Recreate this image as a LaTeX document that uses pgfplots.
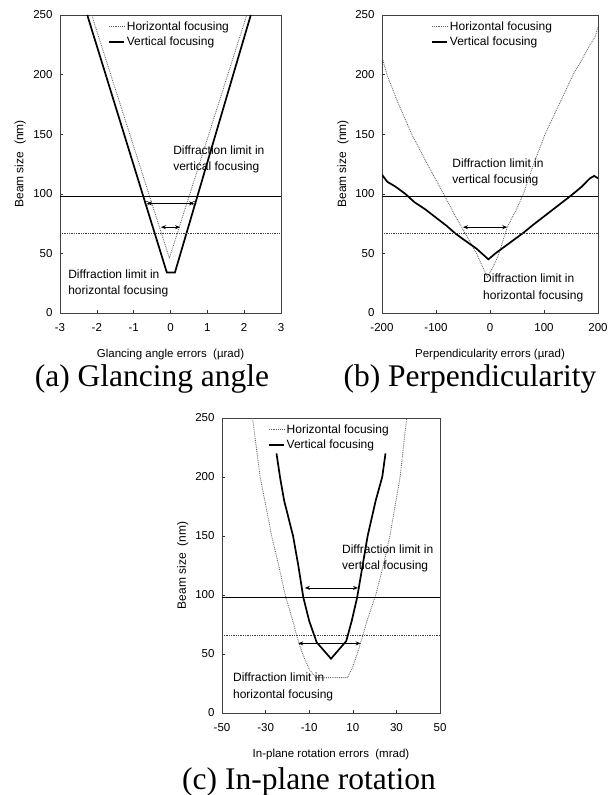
\documentclass[border=0pt]{standalone}
\usepackage{fontspec}
\setmainfont{Liberation Serif}
\setsansfont{Liberation Sans}
\usepackage{pgfplots}
\pgfplotsset{compat=1.18}
\usetikzlibrary{arrows.meta}

\pgfplotsset{
  beam/.style={
    scale only axis,
    ymin=0, ymax=250,
    ytick={0,50,100,150,200,250},
    axis line style={black!75, line width=0.6pt},
    tick style={black!80, line width=0.5pt},
    major tick length=3pt,
    tick align=inside,
    xtick pos=lower, ytick pos=left,
    ticklabel style={font=\sffamily\fontsize{11.5}{13}\selectfont},
    xticklabel style={yshift=-7pt},
    yticklabel style={xshift=-4pt},
    /pgf/number format/assume math mode=true,
    every axis x label/.style={at={(axis description cs:0.5,0)}, anchor=center, yshift=-42pt, font=\sffamily\fontsize{11.5}{13}\selectfont},
    every axis y label/.style={at={(axis description cs:-0.18,0.5)}, rotate=90, anchor=center, font=\sffamily\fontsize{12}{14}\selectfont},
    ylabel={Beam size\ \ (nm)},
    legend style={draw=none, fill=none, font=\sffamily\fontsize{12}{14}\selectfont, anchor=north west, inner sep=0pt, row sep=1pt},
    legend cell align=left,
    legend image code/.code={\draw[#1] (0pt,0pt) -- (15pt,0pt);},
    clip=true,
  },
  hf/.style={densely dotted, black!62, line width=0.85pt},
  vf/.style={black, line width=1.7pt},
  hlim/.style={densely dotted, black!75, line width=0.75pt, forget plot},
  vlim/.style={black, line width=1.3pt, forget plot},
  arr/.style={black, line width=0.8pt, forget plot, arrows={Stealth[length=5pt,width=4pt]-Stealth[length=5pt,width=4pt]}},
}
\newcommand{\annfont}{\sffamily\fontsize{12}{16.5}\selectfont}

\begin{document}
\begin{tikzpicture}
\useasboundingbox (0pt,0pt) rectangle (610pt,795pt);

% ---------------- (a) ----------------
\begin{axis}[beam, at={(60pt,482pt)}, anchor=south west, width=221pt, height=298pt,
  xmin=-3, xmax=3, xtick={-3,-2,-1,0,1,2,3},
  xlabel={Glancing angle errors\ \ (\textmu rad)},
  legend style={at={(0.217,0.985)}}]
\addplot[hf] coordinates {(-2.14,250) (-0.03,46) (2.07,250)};
\addlegendentry{Horizontal focusing}
\addplot[vf] coordinates {(-2.26,250) (-0.1,34) (0.12,34) (2.18,250)};
\addlegendentry{Vertical focusing}
\addplot[vlim] coordinates {(-3,98) (3,98)};
\addplot[hlim] coordinates {(-3,67) (3,67)};
\addplot[arr] coordinates {(-0.64,92) (0.64,92)};
\addplot[black, only marks, mark=o, mark size=2pt, forget plot] coordinates {(-0.64,92) (0.64,92)};
\addplot[arr] coordinates {(-0.26,72) (0.26,72)};
\node[anchor=west, align=left, inner sep=0pt, font=\annfont] at (axis cs:0.07,129) {Diffraction limit in\\vertical focusing};
\node[anchor=west, align=left, inner sep=0pt, font=\annfont] at (axis cs:-2.78,25) {Diffraction limit in\\horizontal focusing};
\end{axis}

% ---------------- (b) ----------------
\begin{axis}[beam, at={(382pt,482pt)}, anchor=south west, width=216pt, height=298pt,
  xmin=-200, xmax=200, xtick={-200,-100,0,100,200},
  xlabel={Perpendicularity errors (\textmu rad)},
  legend style={at={(0.227,0.985)}}]
\addplot[hf] coordinates {(-200,215) (-191,200) (-170,176) (-145,150) (-115,124) (-86,100) (-65,82) (-50,70) (-25,50) (-5,30) (5,38) (15,48) (32,72) (50,88) (62,100) (80,124) (102,150) (128,175) (154,200) (172,214) (185,225) (195,232) (200,240)};
\addlegendentry{Horizontal focusing}
\addplot[vf] coordinates {(-200,116) (-190,110) (-175,106) (-157,100) (-140,93) (-120,87) (-100,80) (-80,73) (-65,67) (-50,62) (-25,54) (-3,45) (10,50) (25,55) (40,60) (61,67) (80,74) (100,81) (120,88) (140,95) (154,100) (170,106) (185,113) (193,115) (200,113)};
\addlegendentry{Vertical focusing}
\addplot[vlim] coordinates {(-200,98) (200,98)};
\addplot[hlim] coordinates {(-200,67) (200,67)};
\addplot[arr] coordinates {(-50,72) (32,72)};
\node[anchor=west, align=left, inner sep=0pt, font=\annfont] at (axis cs:-70,118) {Diffraction limit in\\vertical focusing};
\node[anchor=west, align=left, inner sep=0pt, font=\annfont] at (axis cs:-13,21) {Diffraction limit in\\horizontal focusing};
\end{axis}

% ---------------- (c) ----------------
\begin{axis}[beam, at={(222pt,82pt)}, anchor=south west, width=218pt, height=295pt,
  xmin=-50, xmax=50, xtick={-50,-30,-10,10,30,50},
  xlabel={In-plane rotation errors\ \ (mrad)},
  legend style={at={(0.21,0.985)}}]
\addplot[hf] coordinates {(-36,250) (-32.5,200) (-27.2,150) (-24,125) (-21,100) (-17.5,78) (-15.5,64) (-13,50) (-10,37) (-7,30) (7.5,30) (9.5,37) (12,50) (14.5,65) (16.5,78) (20.5,100) (24,125) (27,150) (31.7,200) (34.7,250)};
\addlegendentry{Horizontal focusing}
\addplot[vf] coordinates {(-25,220) (-23.4,200) (-21.5,180) (-17.4,150) (-15,125) (-12.7,98) (-10,78) (-6.6,60) (0,46) (7,61) (9.5,78) (12,98) (14.5,125) (16.8,150) (20.5,180) (23.5,200) (25,220)};
\addlegendentry{Vertical focusing}
\addplot[vlim] coordinates {(-50,98) (50,98)};
\addplot[hlim] coordinates {(-50,66) (50,66)};
\addplot[arr] coordinates {(-12,106) (12.4,106)};
\addplot[arr] coordinates {(-15,59) (13.6,59)};
\node[anchor=west, align=left, inner sep=0pt, font=\annfont] at (axis cs:5,131) {Diffraction limit in\\vertical focusing};
\node[anchor=west, align=left, inner sep=0pt, font=\annfont] at (axis cs:-45,22) {Diffraction limit in\\horizontal focusing};
\end{axis}

% captions
\node[font=\rmfamily\fontsize{31.5}{34}\selectfont] at (152pt,416pt) {(a) Glancing angle};
\node[font=\rmfamily\fontsize{31.5}{34}\selectfont] at (470pt,416pt) {(b) Perpendicularity};
\node[font=\rmfamily\fontsize{31.5}{34}\selectfont] at (309pt,13pt) {(c) In-plane rotation};
\end{tikzpicture}
\end{document}
